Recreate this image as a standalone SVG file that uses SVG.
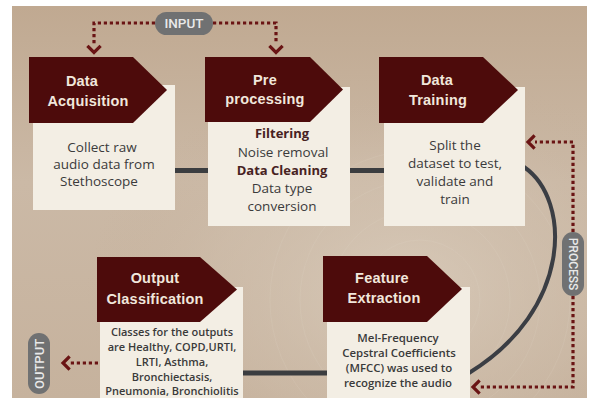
<svg xmlns="http://www.w3.org/2000/svg" width="590" height="398" viewBox="0 0 590 398">
  <defs>
    <linearGradient id="bg" x1="0" y1="0" x2="0" y2="1">
      <stop offset="0" stop-color="#c0a991"/>
      <stop offset="0.45" stop-color="#cbb9a6"/>
      <stop offset="1" stop-color="#c6b29d"/>
    </linearGradient>
    <radialGradient id="glow" cx="0.68" cy="0.72" r="0.55">
      <stop offset="0" stop-color="#dccfbf" stop-opacity="0.75"/>
      <stop offset="0.6" stop-color="#d2c2b0" stop-opacity="0.35"/>
      <stop offset="1" stop-color="#c2ac96" stop-opacity="0"/>
    </radialGradient>
    <style>
      .card { fill: #f3eee4; }
      .head { fill: #4d0b0b; }
      .ht { font-family: "Liberation Sans", Arial, sans-serif; font-weight: 700; font-size: 14.5px; fill: #f1e7dc; text-anchor: middle; letter-spacing: 0.2px; }
      .bt { font-family: "Open Sans", "Liberation Sans", sans-serif; font-size: 13.5px; fill: #3b3b3b; text-anchor: middle; }
      .bb { font-family: "Open Sans", "Liberation Sans", sans-serif; font-size: 13px; font-weight: 700; fill: #472222; text-anchor: middle; }
      .st { font-family: "Open Sans", "Liberation Sans", sans-serif; font-size: 11px; font-weight: 600; fill: #3a3a3a; text-anchor: middle; }
      .st2 { font-family: "Open Sans", "Liberation Sans", sans-serif; font-size: 11.4px; font-weight: 600; fill: #3a3a3a; text-anchor: middle; }
      .pill { fill: #707172; }
      .pt { font-family: Roboto, "Liberation Sans", sans-serif; font-weight: 500; fill: #e9e9e9; text-anchor: middle; }
      .bar { stroke: #3b3d40; stroke-width: 5; fill: none; }
      .arc { stroke: #3b3e44; stroke-width: 4; fill: none; }
      .dot { stroke: #6a1414; stroke-width: 3.2; stroke-dasharray: 3.2 2.8; fill: none; }
      .chev { stroke: #6a1414; stroke-width: 3.2; fill: none; stroke-linecap: square; }
    </style>
  </defs>

  <!-- backdrop -->
  <rect x="0" y="0" width="590" height="398" fill="#ffffff"/>
  <rect x="12" y="6" width="575" height="392" fill="url(#bg)"/>
  <rect x="12" y="6" width="575" height="392" fill="url(#glow)"/>
  <g fill="none" stroke="#e6dacb" stroke-opacity="0.14" stroke-width="1">
    <circle cx="420" cy="300" r="60"/>
    <circle cx="420" cy="300" r="90"/>
    <circle cx="420" cy="300" r="120"/>
    <circle cx="420" cy="300" r="150"/>
  </g>

  <!-- connectors -->
  <g id="connectors">
    <line class="bar" x1="174" y1="170.5" x2="209" y2="170.5"/>
    <line class="bar" x1="349" y1="170.5" x2="385" y2="170.5"/>
    <line class="bar" x1="242" y1="373" x2="328" y2="373"/>
    <path class="arc" d="M524,167 C572,200 572,310 469,373"/>

    <!-- input branch -->
    <path class="dot" d="M155,23 H94 V44"/>
    <polyline class="chev" points="88.5,47 94,52.5 99.5,47"/>
    <path class="dot" d="M213,23 H276 V44"/>
    <polyline class="chev" points="270.5,47 276,52.5 281.5,47"/>

    <!-- process branch -->
    <path class="dot" d="M573,232 V142 H535"/>
    <polyline class="chev" points="533.5,136.5 528,142 533.5,147.5"/>
    <path class="dot" d="M573,296 V387 H480"/>
    <polyline class="chev" points="478.5,381.5 473,387 478.5,392.5"/>

    <!-- output branch -->
    <path class="dot" d="M98,363 H70"/>
    <polyline class="chev" points="68.5,357.5 63,363 68.5,368.5"/>
  </g>

  <!-- labels on the branches -->
  <g id="input">
    <rect class="pill" x="155" y="12" width="58" height="23" rx="11.5"/>
    <text class="pt" x="184" y="28" font-size="13.5">INPUT</text>
  </g>
  <g id="process">
    <rect class="pill" x="562" y="232" width="22" height="64" rx="11"/>
    <text class="pt" font-size="12" transform="translate(573,264) rotate(90)" y="4.3">PROCESS</text>
  </g>
  <g id="output">
    <rect class="pill" x="28" y="333" width="22" height="61" rx="11"/>
    <text class="pt" font-size="13" transform="translate(39,364) rotate(-90)" y="4.6">OUTPUT</text>
  </g>

  <!-- step 1 -->
  <g id="data-acquisition">
    <rect class="card" x="33" y="85" width="142" height="125"/>
    <path class="head" d="M29,57 H133 L167,90 L133,123 H29 Z"/>
    <text class="ht" x="82" y="86">Data</text>
    <text class="ht" x="88" y="106">Acquisition</text>
    <text class="bt" x="102" y="152">Collect raw</text>
    <text class="bt" x="104" y="169">audio data from</text>
    <text class="bt" x="99" y="186">Stethoscope</text>
  </g>

  <!-- step 2 -->
  <g id="pre-processing">
    <rect class="card" x="208" y="87" width="142" height="139"/>
    <path class="head" d="M205,57 H310 L343,89.5 L310,122 H205 Z"/>
    <text class="ht" x="265" y="85">Pre</text>
    <text class="ht" x="265" y="104">processing</text>
    <text class="bb" x="282" y="138">Filtering</text>
    <text class="bt" x="283" y="157">Noise removal</text>
    <text class="bb" x="282" y="175">Data Cleaning</text>
    <text class="bt" x="282" y="193">Data type</text>
    <text class="bt" x="282" y="211">conversion</text>
  </g>

  <!-- step 3 -->
  <g id="data-training">
    <rect class="card" x="384" y="87" width="141" height="139"/>
    <path class="head" d="M379,57 H483 L518,90 L483,123 H379 Z"/>
    <text class="ht" x="437" y="85">Data</text>
    <text class="ht" x="438" y="105">Training</text>
    <text class="bt" x="455" y="150">Split the</text>
    <text class="bt" x="455" y="168">dataset to test,</text>
    <text class="bt" x="455" y="186">validate and</text>
    <text class="bt" x="455" y="204">train</text>
  </g>

  <!-- step 4 -->
  <g id="feature-extraction">
    <rect class="card" x="327" y="287" width="143" height="111"/>
    <path class="head" d="M323,256 H427 L462,289 L427,322 H323 Z"/>
    <text class="ht" x="382" y="283">Feature</text>
    <text class="ht" x="384" y="303">Extraction</text>
    <text class="st2" x="398" y="342">Mel-Frequency</text>
    <text class="st2" x="399" y="357">Cepstral Coefficients</text>
    <text class="st2" x="399" y="372">(MFCC) was used to</text>
    <text class="st2" x="398" y="387">recognize the audio</text>
  </g>

  <!-- step 5 -->
  <g id="output-classification">
    <rect class="card" x="100" y="287" width="143" height="111"/>
    <path class="head" d="M97,257 H200 L237,289.5 L200,322 H97 Z"/>
    <text class="ht" x="155" y="283">Output</text>
    <text class="ht" x="155" y="304">Classification</text>
    <text class="st" x="172" y="336">Classes for the outputs</text>
    <text class="st" x="172" y="351">are Healthy, COPD,URTI,</text>
    <text class="st" x="172" y="366">LRTI, Asthma,</text>
    <text class="st" x="172" y="381">Bronchiectasis,</text>
    <text class="st" x="172" y="395">Pneumonia, Bronchiolitis</text>
  </g>
</svg>
